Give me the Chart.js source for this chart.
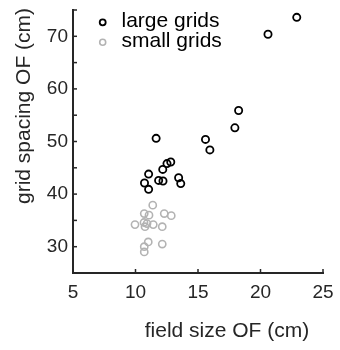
<!DOCTYPE html>
<html>
<head>
<meta charset="utf-8">
<script src="https://cdn.jsdelivr.net/npm/chart.js@4.4.1/dist/chart.umd.min.js"></script>
<style>
  html, body { margin: 0; padding: 0; background: #fff; }
  #wrap { width: 340px; height: 350px; }
</style>
</head>
<body>
<div id="wrap"><canvas id="chart" width="340" height="350"></canvas></div>
<script>
// field size OF (cm) vs grid spacing OF (cm)
const largeX = [11.65, 15.6, 15.95, 17.95, 18.25, 20.6, 22.9, 11.05, 10.72, 11.05, 11.85, 12.2, 12.18, 12.52, 12.82, 13.45, 13.62];
const largeY = [50.6, 50.4, 48.4, 52.6, 55.9, 70.4, 73.6, 43.8, 42.1, 40.9, 42.6, 42.5, 44.7, 45.8, 46.1, 43.1, 42.0];
const smallX = [11.38, 10.7, 11.08, 12.3, 12.86, 9.96, 10.68, 10.92, 11.42, 10.76, 12.14, 11.02, 12.14, 10.7, 10.7];
const smallY = [37.9, 36.3, 36.0, 36.3, 35.9, 34.2, 34.6, 34.4, 34.2, 33.8, 33.8, 30.9, 30.5, 30.0, 29.0];
const seriesNames = ["large grids", "small grids"];
const xTicks = [5, 10, 15, 20, 25];
const yTicks = [30, 40, 50, 60, 70];

const ink = "#262626";
const font = "'Liberation Sans', Arial, Helvetica, sans-serif";

const toPoints = (xs, ys) => xs.map((x, i) => ({ x, y: ys[i] }));

// inward ticks, legend and axis titles drawn MATLAB style
const decor = {
  id: "decor",
  afterDraw(chart) {
    const { ctx, chartArea, scales } = chart;
    ctx.save();
    ctx.strokeStyle = ink;
    ctx.lineWidth = 1.5;
    // x ticks
    for (let v = 5; v <= 25; v += 5) {
      const px = scales.x.getPixelForValue(v);
      ctx.beginPath();
      ctx.moveTo(px, chartArea.bottom);
      ctx.lineTo(px, chartArea.bottom - 4);
      ctx.stroke();
    }
    // y ticks (every 5)
    for (let v = 25; v <= 75; v += 5) {
      const py = scales.y.getPixelForValue(v);
      ctx.beginPath();
      ctx.moveTo(chartArea.left, py);
      ctx.lineTo(chartArea.left + 4, py);
      ctx.stroke();
    }

    // legend
    ctx.font = "21px " + font;
    ctx.textBaseline = "alphabetic";
    ctx.textAlign = "left";
    chart.data.datasets.forEach((ds, i) => {
      const y = 22.3 + i * 20;
      ctx.beginPath();
      ctx.arc(102.7, y, 3, 0, Math.PI * 2);
      ctx.strokeStyle = ds.borderColor;
      ctx.lineWidth = ds.borderWidth;
      ctx.stroke();
      ctx.fillStyle = "#000";
      ctx.fillText(ds.label, 121.5, y + 5);
    });

    // axis titles
    ctx.fillStyle = ink;
    ctx.textAlign = "center";
    ctx.fillText("field size OF (cm)", 227, 337);
    ctx.translate(24, 106);
    ctx.rotate(-Math.PI / 2);
    ctx.textBaseline = "middle";
    ctx.fillText("grid spacing OF (cm)", 0, 0);
    ctx.restore();
  }
};

new Chart(document.getElementById("chart"), {
  type: "scatter",
  data: {
    datasets: [
      {
        label: seriesNames[0],
        data: toPoints(largeX, largeY),
        borderColor: "#000000",
        backgroundColor: "rgba(0,0,0,0)",
        borderWidth: 1.8,
        pointRadius: 3.6,
        pointHoverRadius: 3.6
      },
      {
        label: seriesNames[1],
        data: toPoints(smallX, smallY),
        borderColor: "#b3b3b3",
        backgroundColor: "rgba(0,0,0,0)",
        borderWidth: 1.6,
        pointRadius: 3.6,
        pointHoverRadius: 3.6
      }
    ]
  },
  options: {
    responsive: false,
    animation: false,
    layout: { padding: { top: 10, right: 17, left: 0, bottom: 0 } },
    plugins: { legend: { display: false }, tooltip: { enabled: false } },
    scales: {
      x: {
        type: "linear",
        min: 5, max: 25,
        afterFit: s => { s.height = 77; s.paddingLeft = 0; s.paddingRight = 0; },
        afterBuildTicks: s => { s.ticks = xTicks.map(v => ({ value: v })); },
        border: { display: true, color: ink, width: 2 },
        grid: { display: false, drawTicks: false },
        ticks: { color: ink, padding: 8, font: { family: font, size: 19 }, maxRotation: 0 }
      },
      y: {
        type: "linear",
        min: 25, max: 75,
        afterFit: s => { s.width = 73; s.paddingTop = 0; s.paddingBottom = 0; },
        afterBuildTicks: s => { s.ticks = yTicks.map(v => ({ value: v })); },
        border: { display: true, color: ink, width: 2 },
        grid: { display: false, drawTicks: false },
        ticks: { color: ink, padding: 5, font: { family: font, size: 19 } }
      }
    }
  },
  plugins: [decor]
});
</script>
</body>
</html>
